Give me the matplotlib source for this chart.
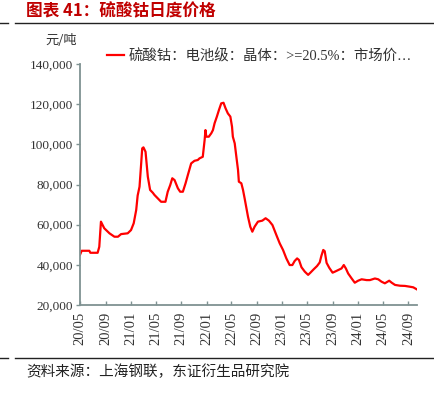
import matplotlib
matplotlib.use("Agg")
import matplotlib.pyplot as plt
import matplotlib.dates as mdates
from matplotlib.lines import Line2D
from matplotlib.ticker import FuncFormatter
import pandas as pd

dates = [
    "2020-05-01", "2020-05-09", "2020-06-15", "2020-06-20", "2020-07-25", "2020-08-02",
    "2020-08-10", "2020-08-26", "2020-09-20", "2020-10-14", "2020-10-31", "2020-11-15",
    "2020-12-17", "2021-01-02", "2021-01-15", "2021-01-27", "2021-02-03", "2021-02-12",
    "2021-02-20", "2021-02-25", "2021-03-03", "2021-03-13", "2021-03-24", "2021-04-04",
    "2021-04-17", "2021-04-25", "2021-05-11", "2021-05-27", "2021-06-17", "2021-06-28",
    "2021-07-10", "2021-07-20", "2021-07-31", "2021-08-16", "2021-08-27", "2021-09-09",
    "2021-09-22", "2021-10-03", "2021-10-19", "2021-11-04", "2021-11-20", "2021-11-28",
    "2021-12-14", "2021-12-23", "2021-12-27", "2021-12-31", "2022-01-12", "2022-01-24",
    "2022-02-01", "2022-02-09", "2022-02-20", "2022-03-02", "2022-03-13", "2022-03-24",
    "2022-04-03", "2022-04-14", "2022-04-26", "2022-05-04", "2022-05-08", "2022-05-17",
    "2022-05-25", "2022-06-02", "2022-06-06", "2022-06-18", "2022-06-26", "2022-07-04",
    "2022-07-12", "2022-07-20", "2022-07-31", "2022-08-10", "2022-08-21", "2022-09-06",
    "2022-09-27", "2022-10-13", "2022-10-29", "2022-11-15", "2022-12-04", "2022-12-20",
    "2023-01-05", "2023-01-21", "2023-02-06", "2023-02-19", "2023-03-02", "2023-03-14",
    "2023-03-23", "2023-04-04", "2023-04-20", "2023-05-06", "2023-05-17", "2023-06-02",
    "2023-06-18", "2023-07-01", "2023-07-09", "2023-07-18", "2023-07-25", "2023-08-03",
    "2023-08-16", "2023-09-01", "2023-09-12", "2023-09-28", "2023-10-14", "2023-10-25",
    "2023-11-04", "2023-11-15", "2023-12-02", "2023-12-17", "2024-01-02", "2024-01-19",
    "2024-02-12", "2024-02-28", "2024-03-23", "2024-04-08", "2024-04-24", "2024-05-10",
    "2024-05-31", "2024-06-12", "2024-06-28", "2024-07-22", "2024-08-15", "2024-09-08",
    "2024-09-24", "2024-10-11",
]
prices = [
    45000, 47000, 47000, 46000, 46000, 49000,
    61500, 58200, 55700, 54000, 54000, 55300,
    55700, 57300, 60700, 67300, 74500, 78900,
    90500, 98000, 98500, 96300, 83900, 77300,
    75900, 74800, 73100, 71400, 71400, 76400,
    79700, 83100, 82200, 78100, 76400, 76400,
    80600, 84700, 90500, 91800, 92200, 93000,
    93800, 102200, 107100, 103800, 103800, 105500,
    107100, 110500, 113800, 117100, 120400, 120700,
    117900, 115400, 113800, 108800, 103800, 100500,
    93800, 87200, 81400, 80600, 77300, 73000,
    68500, 64000, 59000, 56500, 59000, 61500,
    62000, 63200, 62000, 59800, 54800, 50700,
    47400, 43200, 39900, 39900, 41900, 43200,
    42400, 38800, 36600, 35000, 36100, 37800,
    39400, 41200, 44500, 47400, 46800, 41000,
    38500, 36100, 36600, 37400, 38200, 39900,
    38200, 35700, 33200, 31100, 32100, 32800,
    32400, 32400, 33200, 32800, 31600, 30800,
    32100, 31100, 30000, 29600, 29500, 29100,
    28800, 27800,
]
series_label = "硫酸钴：电池级：晶体：>=20.5%：市场价…"
title = "图表 41：硫酸钴日度价格"
unit = "元/吨"
source = "资料来源：上海钢联，东证衍生品研究院"
y_ticks = [20000, 40000, 60000, 80000, 100000, 120000, 140000]

CJK = ["Noto Sans CJK SC", "DejaVu Sans"]
MIX = ["Liberation Serif", "Noto Sans CJK SC", "DejaVu Sans"]

W, H = 435, 393
fig = plt.figure(figsize=(W / 100, H / 100), dpi=100)
ax = fig.add_axes([80 / W, 1 - 305 / H, (417 - 80) / W, (305 - 64) / H])

x = pd.to_datetime(dates)
ax.plot(x, prices, color="#FF0000", lw=1.6, label=series_label)

ax.set_ylim(20000, 140000)
ax.set_yticks(y_ticks)
ax.yaxis.set_major_formatter(FuncFormatter(lambda v, p: f"{int(v):,}"))
ax.set_xlim(pd.Timestamp("2020-05-01"), pd.Timestamp("2024-10-12"))
ax.xaxis.set_major_locator(mdates.MonthLocator(bymonth=[1, 5, 9]))
ax.xaxis.set_major_formatter(mdates.DateFormatter("%y/%m"))

spine_c = "#7F9292"
for s in ["top", "right"]:
    ax.spines[s].set_visible(False)
for s in ["left", "bottom"]:
    ax.spines[s].set_color(spine_c)
    ax.spines[s].set_linewidth(1.3)

ax.tick_params(axis="y", direction="out", length=3, width=1, color=spine_c,
               labelsize=9.5, labelcolor="#333333", pad=2)
ax.tick_params(axis="x", direction="in", length=3, width=1, color=spine_c,
               labelsize=10.5, labelcolor="#333333", pad=5, labelrotation=90)
for lab in ax.get_yticklabels() + ax.get_xticklabels():
    lab.set_fontfamily("Liberation Serif")

leg = ax.legend(loc="upper left", bbox_to_anchor=(107 / W, 1 - 49 / H),
                bbox_transform=fig.transFigure, frameon=False, borderpad=0,
                handlelength=1.15, handletextpad=0.35, borderaxespad=0,
                prop={"family": MIX, "size": 10.4})
for t in leg.get_texts():
    t.set_color("#333333")

fig.text(26 / W, 1 - 11 / H, title, family=CJK, fontsize=12, fontweight="bold",
         color="#C00000", va="center", ha="left")
fig.text(45 / W, 1 - 40 / H, unit, family=CJK, fontsize=9.5, color="#333333",
         va="center", ha="left")
fig.text(26 / W, 1 - 372 / H, source, family=CJK, fontsize=10.5, color="#222222",
         va="center", ha="left")

for y in (22.5, 357.5):
    fig.add_artist(Line2D([0, 8 / W], [1 - y / H] * 2, color="#222222", lw=1,
                          transform=fig.transFigure))
    fig.add_artist(Line2D([15 / W, 1], [1 - y / H] * 2, color="#222222", lw=1,
                          transform=fig.transFigure))

fig.savefig("out.png", dpi=100)
